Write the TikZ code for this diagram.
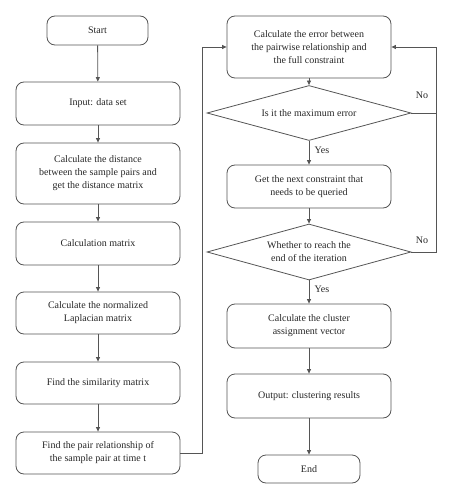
\documentclass[tikz,border=0pt]{standalone}
\usepackage{fontspec}
\setmainfont{Liberation Serif}
\usetikzlibrary{shapes.geometric,arrows.meta}
\definecolor{ln}{RGB}{85,85,85}
\begin{document}
\begin{tikzpicture}[x=1pt,y=-1pt,
  every node/.style={font=\fontsize{10}{13}\selectfont, text=black!85},
  box/.style={draw=ln, line width=0.8pt, rounded corners=8pt, align=center, minimum width=164pt, inner sep=2pt},
  term/.style={draw=ln, line width=0.8pt, rounded corners=8pt, align=center, minimum width=101pt, minimum height=29pt},
  dec/.style={draw=ln, line width=0.8pt, diamond, align=center, minimum width=204pt, minimum height=55pt, aspect=3.7, inner sep=0pt},
  arr/.style={draw=ln, line width=0.8pt, -{Triangle[length=4.5pt,width=4pt]}},
  ln/.style={draw=ln, line width=0.8pt}]
\useasboundingbox (0,0) rectangle (452,500);
% left column
\node[term] (start) at (97.5,30.5) {Start};
\node[box, minimum height=43pt] (input) at (98,103.5) {Input: data set};
\node[box, minimum height=61pt] (dist) at (98,173.5) {Calculate the distance\\between the sample pairs and\\get the distance matrix};
\node[box, minimum height=43pt] (cmat) at (98,243.5) {Calculation matrix};
\node[box, minimum height=42pt] (lap) at (98,313) {Calculate the normalized\\Laplacian matrix};
\node[box, minimum height=42pt] (sim) at (98,383) {Find the similarity matrix};
\node[box, minimum height=42pt] (pair) at (98,453) {Find the pair relationship of\\the sample pair at time t};
% right column
\node[box, minimum height=62pt] (err) at (309,47) {Calculate the error between\\the pairwise relationship and\\the full constraint};
\node[dec] (d1) at (309,113) {Is it the maximum error};
\node[box, minimum height=43pt] (next) at (309,186.5) {Get the next constraint that\\needs to be queried};
\node[dec, minimum height=56pt] (d2) at (309,252) {Whether to reach the\\end of the iteration};
\node[box, minimum height=44pt] (clus) at (309,326) {Calculate the cluster\\assignment vector};
\node[box, minimum height=44pt] (out) at (309,396) {Output: clustering results};
\node[term, minimum width=102pt, minimum height=28pt] (end) at (309,469) {End};
% coordinates
\coordinate (lc) at (202,453);
\coordinate (r1) at (436,113);
\coordinate (r2) at (436,252);
% arrows
\draw[arr] (start) -- (input);
\draw[arr] (input) -- (dist);
\draw[arr] (dist) -- (cmat);
\draw[arr] (cmat) -- (lap);
\draw[arr] (lap) -- (sim);
\draw[arr] (sim) -- (pair);
\draw[arr] (pair.east) -- (lc) |- (err.west);
\draw[arr] (err) -- (d1);
\draw[arr] (d1) -- node[right, pos=0.4, xshift=2pt] (yes1) {Yes} (next);
\draw[arr] (next) -- (d2);
\draw[arr] (d2) -- node[right, pos=0.4, xshift=2pt] (yes2) {Yes} (clus);
\draw[arr] (clus) -- (out);
\draw[arr] (out) -- (end);
\draw[ln] (d1.east) -- (r1);
\draw[arr] (d2.east) -- (r2) |- (err.east);
\node (no1) at (422,95) {No};
\node (no2) at (422,240) {No};
\end{tikzpicture}
\end{document}
